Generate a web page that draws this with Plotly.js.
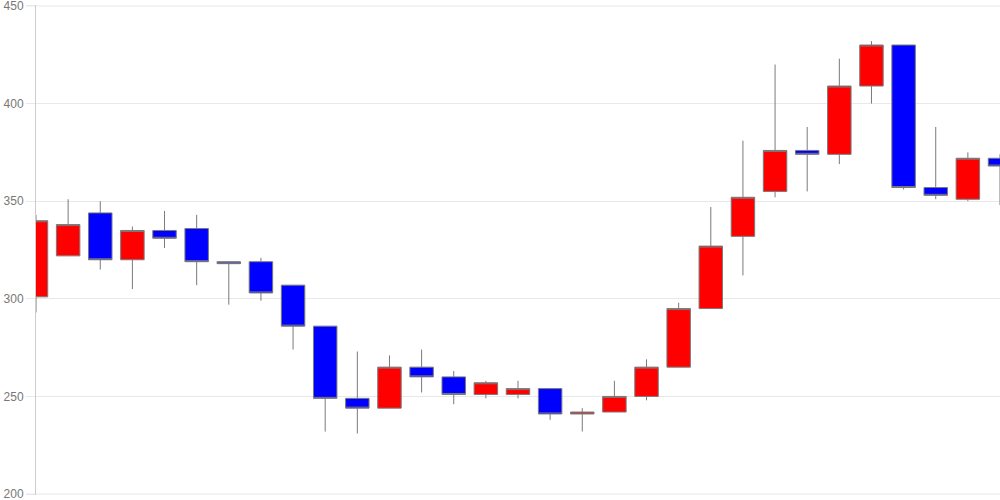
<!DOCTYPE html>
<html>
<head>
<meta charset="utf-8">
<script src="https://cdn.plot.ly/plotly-3.0.1.min.js"></script>
<style>
html,body{margin:0;padding:0;background:#fff;}
#chart{width:1000px;height:500px;}
</style>
</head>
<body>
<div id="chart"></div>
<script>
var days  = [0,1,2,3,4,5,6,7,8,9,10,11,12,13,14,15,16,17,18,19,20,21,22,23,24,25,26,27,28,29,30];
var open  = [301,322,344,320,335,336,319,319,307,286,249,244,265,260,251,251,254,241,242,250,265,295,332,355,376,374,409,430,357,351,372];
var high  = [343,351,350,337,345,343,319,321,307,286,273,271,274,263,258,258,254,244,258,269,298,347,381,420,388,423,432,430,388,375,374];
var low   = [293,322,315,305,326,307,297,299,274,232,231,244,252,246,249,249,238,232,242,248,265,295,312,352,355,369,400,356,351,350,348];
var close = [340,338,320,335,331,319,318,303,286,249,244,265,260,251,257,254,241,242,250,265,295,327,352,376,374,409,430,357,353,372,368];
var yTicks = [200,250,300,350,400,450];
var yEdges = [200,450];

var trace = {
  type: 'candlestick',
  x: days, open: open, high: high, low: low, close: close,
  increasing: {fillcolor: '#ff0000', line: {color: '#7a7a7a', width: 1}},
  decreasing: {fillcolor: '#0000ff', line: {color: '#7a7a7a', width: 1}},
  whiskerwidth: 0,
  hoverinfo: 'none'
};

var edgeShapes = yEdges.map(function (v) {
  return {type: 'line', xref: 'paper', yref: 'y', x0: -0.0104, x1: 1, y0: v, y1: v,
          line: {color: '#e8e8e8', width: 1}, layer: 'below'};
});

var layout = {
  width: 1000, height: 500,
  margin: {l: 36, r: 0, t: 5, b: 5, pad: 0},
  paper_bgcolor: '#ffffff', plot_bgcolor: '#ffffff',
  showlegend: false,
  boxgap: 0.27,
  boxgroupgap: 0,
  shapes: edgeShapes,
  xaxis: {
    range: [0, 30], showticklabels: false, showgrid: false, zeroline: false,
    showline: false, ticks: '', rangeslider: {visible: false}, fixedrange: true
  },
  yaxis: {
    range: [199.5, 450.5], tickvals: yTicks, ticktext: yTicks.map(String),
    showgrid: true, gridcolor: '#e8e8e8', gridwidth: 1, zeroline: false,
    showline: true, linecolor: '#cccccc', linewidth: 1,
    ticks: 'outside', ticklen: 9, tickcolor: '#e8e8e8', tickwidth: 1,
    ticklabeloverflow: 'allow',
    tickfont: {family: 'Arial, Liberation Sans, sans-serif', size: 12, color: '#777777'},
    fixedrange: true
  },
  font: {family: 'Arial, Liberation Sans, sans-serif'}
};

Plotly.newPlot('chart', [trace], layout, {displayModeBar: false, staticPlot: true});
</script>
</body>
</html>
